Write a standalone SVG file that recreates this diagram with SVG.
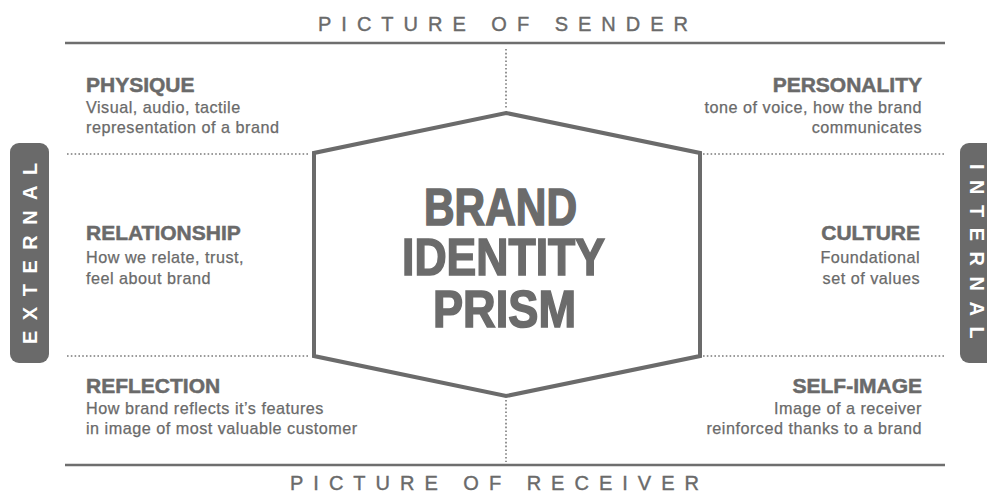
<svg xmlns="http://www.w3.org/2000/svg" width="987" height="493" viewBox="0 0 987 493">
<style>
.rule{stroke:#6e6e6e;stroke-width:2.6;fill:none}
.dot{stroke:#7a7a7a;stroke-width:1.6;stroke-dasharray:1.6 2.2;fill:none}
.hex{stroke:#6b6b6b;stroke-width:4;fill:#fff;stroke-linejoin:miter}
.cap{font-family:"Liberation Sans",Arial,sans-serif;font-size:20px;fill:#6a6a6a;letter-spacing:10px;stroke:#6a6a6a;stroke-width:0.4}
.h{font-family:"Liberation Sans",Arial,sans-serif;font-weight:bold;font-size:21px;fill:#6a6a6a;stroke:#6a6a6a;stroke-width:0.5}
.b{font-family:"Liberation Sans",Arial,sans-serif;font-size:16.2px;letter-spacing:0.5px;fill:#6a6a6a;stroke:#6a6a6a;stroke-width:0.25}
.r{text-anchor:end}
.tab{fill:#6a6a6a}
.tabt{font-family:"Liberation Sans",Arial,sans-serif;font-weight:bold;font-size:20px;fill:#fff;letter-spacing:10.5px}
.big{font-family:"Liberation Sans",Arial,sans-serif;font-weight:bold;font-size:52px;fill:#6b6b6b;stroke:#6b6b6b;stroke-width:1.6}
</style>
<rect width="987" height="493" fill="#fff"/>
<g id="connectors">
<line class="rule" x1="65" y1="43" x2="945" y2="43"/>
<line class="rule" x1="65" y1="465" x2="945" y2="465"/>
<line class="dot" x1="67" y1="154" x2="310" y2="154"/>
<line class="dot" x1="67" y1="356" x2="310" y2="356"/>
<line class="dot" x1="703" y1="154" x2="945" y2="154"/>
<line class="dot" x1="703" y1="356" x2="945" y2="356"/>
<line class="dot" x1="506" y1="49" x2="506" y2="109"/>
<line class="dot" x1="506" y1="400" x2="506" y2="462"/>
</g>
<g id="sender"><text class="cap" x="318" y="31">PICTURE OF SENDER</text></g>
<g id="receiver"><text class="cap" x="290" y="490">PICTURE OF RECEIVER</text></g>
<g id="external">
<rect class="tab" x="10" y="143" width="39" height="220" rx="9"/>
<text class="tabt" transform="translate(37,344) rotate(-90)">EXTERNAL</text>
</g>
<g id="internal">
<rect class="tab" x="960" y="143" width="40" height="220" rx="9"/>
<text class="tabt" transform="translate(970,164) rotate(90)">INTERNAL</text>
</g>
<g id="prism">
<polygon class="hex" points="506,113 700,153 700,356 506,396 314,356 314,153"/>
<text class="big"><tspan x="424" y="225" textLength="153" lengthAdjust="spacingAndGlyphs">BRAND</tspan><tspan x="402" y="275" textLength="203" lengthAdjust="spacingAndGlyphs">IDENTITY</tspan><tspan x="433" y="327" textLength="143" lengthAdjust="spacingAndGlyphs">PRISM</tspan></text>
</g>
<g id="physique">
<text class="h" x="86" y="92">PHYSIQUE</text>
<text class="b" x="86" y="113">Visual, audio, tactile</text>
<text class="b" x="86" y="133">representation of a brand</text>
</g>
<g id="personality">
<text class="h r" x="922" y="92">PERSONALITY</text>
<text class="b r" x="922" y="113">tone of voice, how the brand</text>
<text class="b r" x="922" y="133">communicates</text>
</g>
<g id="relationship">
<text class="h" x="86" y="240">RELATIONSHIP</text>
<text class="b" x="86" y="263">How we relate, trust,</text>
<text class="b" x="86" y="284">feel about brand</text>
</g>
<g id="culture">
<text class="h r" x="920" y="240">CULTURE</text>
<text class="b r" x="920" y="263">Foundational</text>
<text class="b r" x="920" y="284">set of values</text>
</g>
<g id="reflection">
<text class="h" x="86" y="393">REFLECTION</text>
<text class="b" x="86" y="414">How brand reflects it’s features</text>
<text class="b" x="86" y="434">in image of most valuable customer</text>
</g>
<g id="self-image">
<text class="h r" x="922" y="393">SELF-IMAGE</text>
<text class="b r" x="922" y="414">Image of a receiver</text>
<text class="b r" x="922" y="434">reinforced thanks to a brand</text>
</g>
</svg>
